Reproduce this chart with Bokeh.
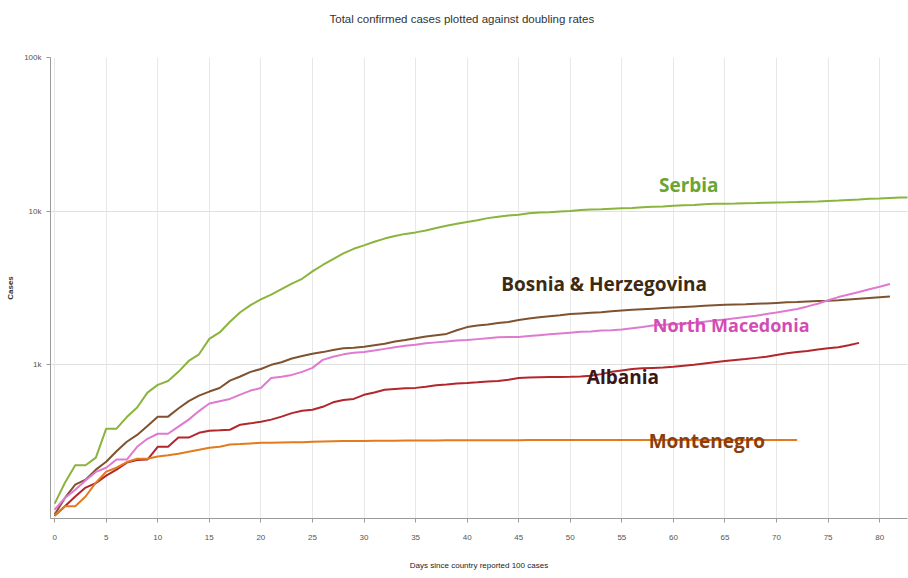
from bokeh.plotting import figure
from bokeh.models import Range1d, FixedTicker, Label, Title
from bokeh.embed import file_html
from bokeh.resources import INLINE

# ---- data ----
serbia = [125, 171, 222, 222, 249, 384, 384, 457, 528, 659,
          741, 785, 900, 1060, 1171, 1476, 1624, 1908, 2200, 2447,
          2666, 2867, 3105, 3380, 3630, 4054, 4465, 4873, 5318, 5690,
          5994, 6318, 6630, 6890, 7114, 7276, 7483, 7779, 8042, 8275,
          8497, 8724, 9009, 9205, 9362, 9464, 9677, 9791, 9848, 9943,
          10032, 10176, 10243, 10295, 10374, 10438, 10496, 10610, 10699, 10733,
          10833, 10919, 10965, 11092, 11159, 11193, 11227, 11275, 11300, 11354,
          11381, 11412, 11454, 11523, 11571, 11667, 11741, 11823, 11896, 12031,
          12102, 12175, 12251, 12310]
bosnia = [106, 136, 166, 179, 208, 234, 274, 316, 350, 400,
          460, 460, 520, 580, 630, 670, 707, 790, 840, 900,
          940, 1000, 1040, 1100, 1140, 1180, 1210, 1250, 1280, 1290,
          1310, 1340, 1370, 1420, 1450, 1490, 1530, 1560, 1590, 1680,
          1760, 1800, 1830, 1870, 1900, 1960, 2000, 2040, 2070, 2100,
          2140, 2160, 2180, 2200, 2230, 2260, 2280, 2300, 2320, 2340,
          2360, 2380, 2400, 2420, 2440, 2460, 2470, 2480, 2500, 2510,
          2530, 2550, 2560, 2580, 2600, 2610, 2630, 2660, 2690, 2720,
          2750, 2780]
north_macedonia = [114, 136, 154, 177, 201, 214, 242, 242, 293, 330,
                   356, 356, 396, 440, 500, 560, 580, 600, 640, 680,
                   707, 822, 836, 860, 900, 955, 1077, 1130, 1170, 1200,
                   1213, 1240, 1270, 1300, 1330, 1350, 1380, 1400, 1420, 1440,
                   1450, 1470, 1490, 1510, 1515, 1520, 1540, 1560, 1580, 1600,
                   1620, 1640, 1650, 1670, 1680, 1700, 1730, 1760, 1800, 1820,
                   1840, 1860, 1880, 1910, 1940, 1970, 2010, 2050, 2090, 2140,
                   2190, 2250, 2310, 2400, 2500, 2630, 2760, 2870, 2980, 3100,
                   3220, 3360]
albania = [104, 120, 139, 159, 170, 190, 208, 231, 240, 242,
           293, 293, 336, 336, 361, 373, 375, 378, 408, 416,
           426, 440, 460, 485, 502, 510, 533, 570, 590, 600,
           638, 660, 688, 697, 704, 708, 720, 736, 745, 755,
           762, 770, 780, 786, 800, 822, 826, 830, 832, 834,
           836, 840, 850, 870, 900, 920, 940, 950, 955, 960,
           970, 985, 1000, 1020, 1040, 1060, 1077, 1090, 1110, 1130,
           1160, 1190, 1210, 1230, 1260, 1280, 1300, 1340, 1390]
montenegro = [105, 120, 120, 139, 171, 202, 214, 233, 245, 245,
              253, 258, 264, 272, 280, 289, 293, 303, 305, 308,
              311, 311, 312, 313, 314, 316, 317, 318, 319, 320,
              320, 321, 321, 321, 322, 322, 322, 322, 323, 323,
              323, 323, 323, 323, 323, 323, 324, 324, 324, 324,
              324, 324, 324, 324, 324, 324, 324, 324, 324, 324,
              324, 324, 324, 324, 324, 324, 324, 324, 324, 324,
              324, 324, 324]

x_ticks = [0, 5, 10, 15, 20, 25, 30, 35, 40, 45, 50, 55, 60, 65, 70, 75, 80]
y_ticks = [1000, 10000, 100000]
y_tick_labels = {1000: "1k", 10000: "10k", 100000: "100k"}

title_text = "Total confirmed cases plotted against doubling rates"

# label text, anchor day, anchor value, colour, weight, size
labels = [
    ("Serbia", 58.6, 14900, "#6aa535", "bold", "19px"),
    ("Bosnia & Herzegovina", 43.3, 3360, "#3d2a12", "bold", "19px"),
    ("North Macedonia", 58.0, 1820, "#d24cb4", "bold", "18px"),
    ("Albania", 51.6, 830, "#3a1616", "bold", "19px"),
    ("Montenegro", 57.6, 321, "#8a3e0c", "bold", "19px"),
]

series = [
    (serbia, "#8ab43c"),
    (bosnia, "#7f5330"),
    (north_macedonia, "#e07ad0"),
    (albania, "#b3262c"),
    (montenegro, "#e27b1e"),
]

small = "Liberation Sans"

p = figure(width=908, height=576, y_axis_type="log", title=None,
           x_range=Range1d(-0.4, 82.7), y_range=Range1d(100, 100000),
           output_backend="svg", toolbar_location=None,
           min_border_left=50, min_border_right=1,
           min_border_top=57, min_border_bottom=58)
p.outline_line_color = None
p.background_fill_color = "white"

# spacer panel next to the frame, then the real title further out
p.add_layout(Title(text=" ", text_font_size="11.5px", standoff=19), "above")
p.add_layout(Title(text=title_text, align="left", offset=279, standoff=0,
                   text_font=small, text_font_size="11.5px",
                   text_font_style="normal", text_color="#333333"), "above")

p.xaxis.ticker = FixedTicker(ticks=x_ticks)
p.yaxis.ticker = FixedTicker(ticks=y_ticks, minor_ticks=[])
p.yaxis.major_label_overrides = y_tick_labels

for ax in (p.xaxis, p.yaxis):
    ax.axis_line_color = "#9a9a9a"
    ax.major_tick_line_color = "#9a9a9a"
    ax.minor_tick_line_color = None
    ax.major_tick_in = 0
    ax.major_tick_out = 4
    ax.major_label_text_font = small
    ax.major_label_text_font_size = "8px"
    ax.major_label_text_color = "#555555"

p.xaxis.axis_label = "Days since country reported 100 cases"
p.xaxis.axis_label_text_font = small
p.xaxis.axis_label_text_font_size = "8px"
p.xaxis.axis_label_text_font_style = "normal"
p.xaxis.axis_label_text_color = "#222222"
p.xaxis.axis_label_standoff = 18
p.xaxis.major_label_standoff = 12

p.yaxis.axis_label = "Cases"
p.yaxis.axis_label_text_font = small
p.yaxis.axis_label_text_font_size = "8px"
p.yaxis.axis_label_text_font_style = "bold"
p.yaxis.axis_label_text_color = "#333333"
p.yaxis.axis_label_standoff = 6
p.yaxis.major_label_standoff = 5

p.xgrid.grid_line_color = "#e8e8e8"
p.ygrid.grid_line_color = "#e0e0e0"

for vals, col in series:
    p.line(list(range(len(vals))), vals, line_color=col, line_width=2)

for txt, xd, yv, col, wt, fs in labels:
    p.add_layout(Label(x=xd, y=yv, text=txt, text_color=col,
                       text_font="Open Sans", text_font_size=fs,
                       text_font_style=wt, text_align="left",
                       text_baseline="middle"))

open("out.html", "w").write(file_html(p, INLINE))
